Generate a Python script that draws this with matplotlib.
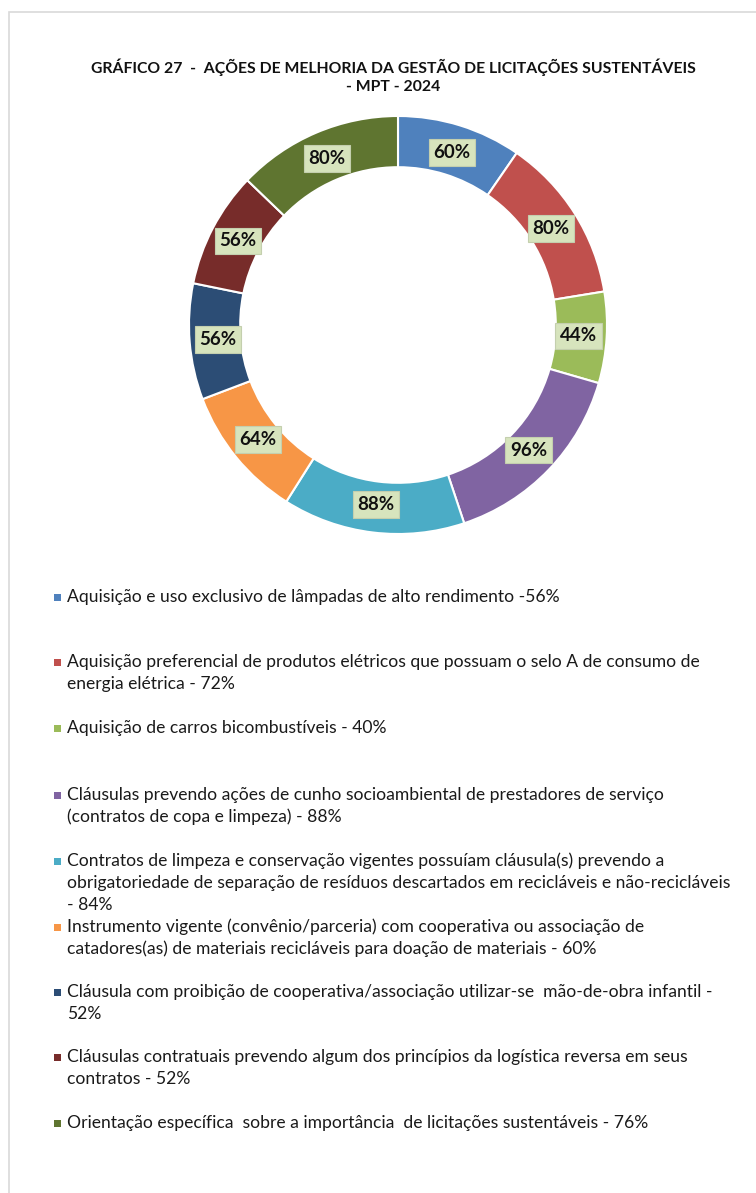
import numpy as np
import matplotlib.pyplot as plt
from matplotlib.patches import Rectangle

# data
valores = [60, 80, 44, 96, 88, 64, 56, 56, 80]
rotulos = ["60%", "80%", "44%", "96%", "88%", "64%", "56%", "56%", "80%"]
categorias = [
    "Aquisição e uso exclusivo de lâmpadas de alto rendimento -56%",
    "Aquisição preferencial de produtos elétricos que possuam o selo A de consumo de\nenergia elétrica - 72%",
    "Aquisição de carros bicombustíveis - 40%",
    "Cláusulas prevendo ações de cunho socioambiental de prestadores de serviço\n(contratos de copa e limpeza) - 88%",
    "Contratos de limpeza e conservação vigentes possuíam cláusula(s) prevendo a\nobrigatoriedade de separação de resíduos descartados em recicláveis e não-recicláveis\n- 84%",
    "Instrumento vigente (convênio/parceria) com cooperativa ou associação de\ncatadores(as) de materiais recicláveis para doação de materiais - 60%",
    "Cláusula com proibição de cooperativa/associação utilizar-se  mão-de-obra infantil -\n52%",
    "Cláusulas contratuais prevendo algum dos princípios da logística reversa em seus\ncontratos - 52%",
    "Orientação específica  sobre a importância  de licitações sustentáveis - 76%",
]
cores = ["#4F81BD", "#C0504D", "#9BBB59", "#8064A2", "#4BACC6",
         "#F79646", "#2C4D75", "#772C2A", "#5F7530"]

W, H = 756, 1193
plt.rcParams['font.family'] = ['Lato', 'DejaVu Sans']
fig = plt.figure(figsize=(W / 100, H / 100), dpi=100)

# thin frame (cropped at right/bottom)
fig.patches.append(Rectangle((9 / W, -0.01), 1.0, 1 - 12 / H + 0.01,
                             transform=fig.transFigure, fill=False,
                             edgecolor="#d9d9d9", linewidth=1.2))

fig.text(393 / W, 1 - 67 / H, "GRÁFICO 27  -  AÇÕES DE MELHORIA DA GESTÃO DE LICITAÇÕES SUSTENTÁVEIS",
         ha="center", va="center", fontsize=11.3, fontweight="bold", color="#111111")
fig.text(393 / W, 1 - 87 / H, "- MPT - 2024",
         ha="center", va="center", fontsize=11.3, fontweight="bold", color="#111111")

# donut
cx, cy, r = 398, 325, 209
ax = fig.add_axes([(cx - r) / W, 1 - (cy + r) / H, 2 * r / W, 2 * r / H])
wedges, _ = ax.pie(valores, colors=cores, startangle=90, counterclock=False,
                   radius=1.0, wedgeprops=dict(width=0.245, edgecolor="white", linewidth=1.5))
ax.set_xlim(-1, 1)
ax.set_ylim(-1, 1)
ax.set_aspect("equal")
ax.axis("off")

for w, lab in zip(wedges, rotulos):
    ang = np.deg2rad((w.theta1 + w.theta2) / 2)
    ax.text(0.865 * np.cos(ang), 0.865 * np.sin(ang), lab, ha="center", va="center",
            fontsize=13.5, fontweight="bold", color="#111111",
            bbox=dict(boxstyle="square,pad=0.25", facecolor="#D7E4BD", edgecolor="#c4cfae", linewidth=0.8))

# legend, drawn by hand to keep the uneven spacing
y_inicio = [597, 662, 728, 795, 861, 927, 992, 1057, 1123]
passo = 22
for cor, txt, y0 in zip(cores, categorias, y_inicio):
    fig.patches.append(Rectangle((54 / W, 1 - (y0 + 3.5) / H), 7 / W, 7 / H,
                                 transform=fig.transFigure, facecolor=cor, edgecolor="none"))
    for i, linha in enumerate(txt.split("\n")):
        fig.text(67 / W, 1 - (y0 + i * passo) / H, linha, ha="left", va="center",
                 fontsize=12.6, color="#1a1a1a")

fig.savefig("out.png", dpi=100, facecolor="white")
